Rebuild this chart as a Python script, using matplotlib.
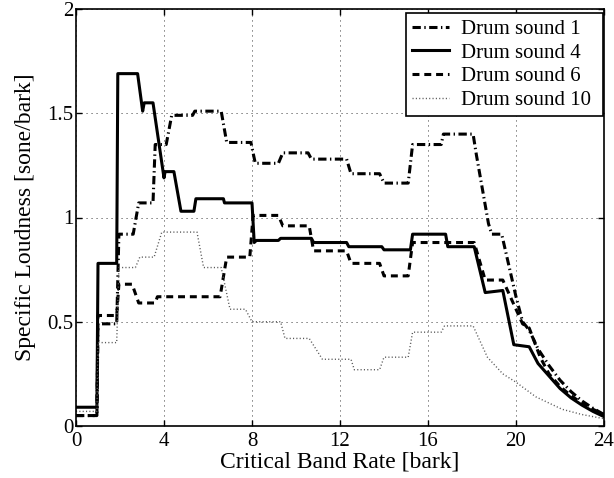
import numpy as np
import matplotlib
matplotlib.use("Agg")
import matplotlib.pyplot as plt

plt.rcParams['font.family'] = ['Liberation Serif', 'DejaVu Serif']
plt.rcParams['lines.scale_dashes'] = False

# specific loudness curves (bark, sone/bark)
drum1_x = [0, 0.95, 1.0, 1.85, 1.95, 2.6, 2.85, 3.5, 3.6, 4.1, 4.35, 5.3, 5.4, 6.6, 6.85,
           7.95, 8.15, 9.2, 9.4, 10.55, 10.7, 12.3, 12.5, 13.8, 14.0, 15.1, 15.3, 16.6, 16.7,
           18.05, 18.2, 18.75, 18.9, 19.35, 20.0, 20.3, 20.6, 21.0, 21.5, 22.0, 22.5, 23.0, 23.5, 24.0]
drum1_y = [0.05, 0.05, 0.49, 0.49, 0.92, 0.92, 1.07, 1.07, 1.35, 1.35, 1.49, 1.49, 1.51, 1.51, 1.36,
           1.36, 1.26, 1.26, 1.31, 1.31, 1.28, 1.28, 1.21, 1.21, 1.165, 1.165, 1.35, 1.35, 1.40,
           1.40, 1.30, 0.97, 0.92, 0.92, 0.62, 0.50, 0.46, 0.37, 0.29, 0.22, 0.165, 0.12, 0.085, 0.055]

drum4_x = [0, 0.95, 1.0, 1.85, 1.9, 2.8, 3.03, 3.1, 3.5, 4.0, 4.05, 4.45, 4.77, 5.36, 5.45,
           6.7, 6.75, 8.0, 8.1, 8.2, 9.2, 9.3, 10.7, 10.8, 12.3, 12.4, 13.9, 14.0, 15.2, 15.3,
           16.8, 16.9, 18.1, 18.6, 19.4, 19.9, 20.6, 21.0, 21.5, 22.0, 22.5, 23.0, 23.5, 24.0]
drum4_y = [0.09, 0.09, 0.78, 0.78, 1.69, 1.69, 1.51, 1.55, 1.55, 1.19, 1.22, 1.22, 1.03, 1.03, 1.09,
           1.09, 1.07, 1.07, 0.88, 0.89, 0.89, 0.90, 0.90, 0.88, 0.88, 0.86, 0.86, 0.845, 0.845, 0.92,
           0.92, 0.86, 0.86, 0.64, 0.65, 0.39, 0.38, 0.30, 0.24, 0.18, 0.135, 0.10, 0.07, 0.045]

drum6_x = [0, 0.95, 1.0, 1.85, 1.95, 2.55, 2.85, 3.6, 3.7, 6.55, 6.85, 7.9, 8.05, 9.2, 9.4,
           10.6, 10.8, 12.3, 12.5, 13.8, 14.0, 15.1, 15.3, 18.1, 18.6, 19.4, 20.3, 20.6, 21.1,
           21.5, 22.0, 22.5, 23.0, 23.5, 24.0]
drum6_y = [0.05, 0.05, 0.53, 0.53, 0.68, 0.68, 0.59, 0.59, 0.62, 0.62, 0.81, 0.81, 1.01, 1.01, 0.96,
           0.96, 0.84, 0.84, 0.78, 0.78, 0.72, 0.72, 0.88, 0.88, 0.70, 0.70, 0.49, 0.47, 0.33,
           0.25, 0.19, 0.145, 0.11, 0.08, 0.055]

drum10_x = [0, 0.95, 1.0, 1.85, 1.95, 2.7, 2.9, 3.55, 3.9, 5.5, 5.8, 6.6, 7.0, 7.7, 8.0,
            9.3, 9.5, 10.6, 11.2, 12.5, 12.65, 13.8, 14.0, 15.1, 15.3, 16.6, 16.75, 18.05, 18.7,
            19.4, 20.0, 20.9, 22.1, 23.0, 24.0]
drum10_y = [0.07, 0.07, 0.40, 0.40, 0.76, 0.76, 0.81, 0.81, 0.93, 0.93, 0.76, 0.76, 0.56, 0.56, 0.50,
            0.50, 0.42, 0.42, 0.32, 0.32, 0.27, 0.27, 0.33, 0.33, 0.45, 0.45, 0.48, 0.48, 0.33,
            0.25, 0.21, 0.14, 0.08, 0.055, 0.035]

fig = plt.figure(figsize=(6.14, 4.78), dpi=100)
ax = fig.add_axes([76 / 614, 1 - 426 / 478, 528 / 614, 417 / 478])

ax.plot(drum1_x, drum1_y, color='k', lw=2.2, dashes=(6, 2.5, 1, 2.5), label='Drum sound 1')
ax.plot(drum4_x, drum4_y, color='k', lw=2.2, label='Drum sound 4')
ax.plot(drum6_x, drum6_y, color='k', lw=2.2, dashes=(5, 3.5), label='Drum sound 6')
ax.plot(drum10_x, drum10_y, color='0.35', lw=1.0, dashes=(0.8, 1.6), label='Drum sound 10')

ax.set_xlim(0, 24)
ax.set_ylim(0, 2)
ax.set_xticks(np.arange(0, 25, 4))
ax.set_yticks([0, 0.5, 1, 1.5, 2])
ax.set_yticklabels(['0', '0.5', '1', '1.5', '2'])
ax.tick_params(direction='in', length=4, width=1, top=True, right=True, labelsize=15)
ax.tick_params(axis='x', pad=4)
ax.tick_params(axis='y', pad=2)
for s in ax.spines.values():
    s.set_linewidth(1.2)
ax.grid(True, color='0.3', lw=0.7, dashes=(0.8, 2.8))

ax.set_xlabel('Critical Band Rate [bark]', fontsize=17, labelpad=1)
ax.set_ylabel('Specific Loudness [sone/bark]', fontsize=17, labelpad=8)

# legend box stretched to a fixed width in the upper right corner
leg = ax.legend(loc='upper left', bbox_to_anchor=(406 / 614, 1 - 111 / 478, 197 / 614, 98 / 478),
                bbox_transform=fig.transFigure, mode='expand', borderaxespad=0, fontsize=15,
                handlelength=1.75, handletextpad=0.6, labelspacing=0.2,
                fancybox=False, framealpha=1, borderpad=0.3)
leg.get_frame().set_edgecolor('k')
leg.get_frame().set_linewidth(1.2)

fig.savefig('out.png', dpi=100)
